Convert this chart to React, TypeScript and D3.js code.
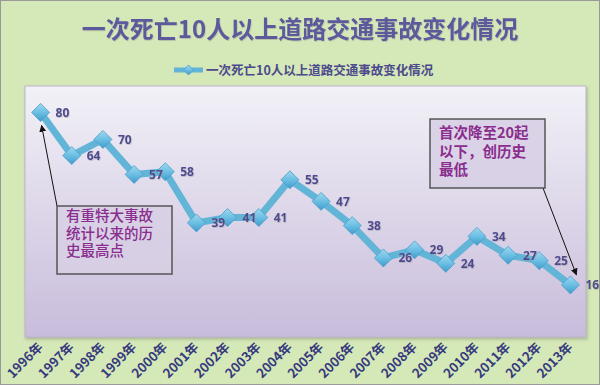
import React from 'react';
import * as d3 from 'd3';

const years = ['1996年', '1997年', '1998年', '1999年', '2000年', '2001年', '2002年', '2003年', '2004年',
  '2005年', '2006年', '2007年', '2008年', '2009年', '2010年', '2011年', '2012年', '2013年'];
const accidents = [80, 64, 70, 57, 58, 39, 41, 41, 55, 47, 38, 26, 29, 24, 34, 27, 25, 16];
const title = '一次死亡10人以上道路交通事故变化情况';
const noteHigh = ['有重特大事故', '统计以来的历', '史最高点'];
const noteLow = ['首次降至20起', '以下，创历史', '最低'];

const W = 600;
const H = 385;
const plot = { left: 25, top: 86, right: 586, bottom: 337 };
const cjk = '"Noto Sans CJK SC", "Noto Sans", sans-serif';

function Diamond({ x, y, r = 9 }: { x: number; y: number; r?: number }) {
  return (
    <path
      d={`M${x},${y - r}L${x + r},${y}L${x},${y + r}L${x - r},${y}Z`}
      fill="url(#diamondFill)"
      stroke="#4a9dc6"
      strokeWidth={0.8}
    />
  );
}

export default function App() {
  const x = d3.scalePoint<string>().domain(years).range([plot.left, plot.right]).padding(0.5);
  const y = d3.scaleLinear().domain([0, 90]).range([328, 85.5]);

  const line = d3
    .line<number>()
    .x((d, i) => x(years[i]) as number)
    .y(d => y(d));

  const px = (i: number) => x(years[i]) as number;
  const last = years.length - 1;

  return (
    <svg width={W} height={H} style={{ position: 'absolute', left: 0, top: 0, display: 'block' }}>
      <defs>
        <linearGradient id="plotFill" x1="0" y1="0" x2="0" y2="1">
          <stop offset="0" stopColor="#f2f1f7" />
          <stop offset="1" stopColor="#c8bcdb" />
        </linearGradient>
        <linearGradient id="diamondFill" x1="0" y1="0" x2="0" y2="1">
          <stop offset="0" stopColor="#9fd8f0" />
          <stop offset="0.5" stopColor="#6cbfe3" />
          <stop offset="1" stopColor="#3f9bcb" />
        </linearGradient>
        <filter id="shadow" x="-5%" y="-5%" width="110%" height="115%">
          <feDropShadow dx="1" dy="2" stdDeviation="1.5" floodColor="#7f8a70" floodOpacity="0.5" />
        </filter>
        <filter id="txtShadow" x="-10%" y="-10%" width="120%" height="130%">
          <feDropShadow dx="0.6" dy="0.8" stdDeviation="0.5" floodColor="#9a9a9a" floodOpacity="0.6" />
        </filter>
        <marker id="arrow" viewBox="0 0 10 10" refX="9" refY="5" markerWidth="7" markerHeight="7" orient="auto">
          <path d="M0,0L10,5L0,10Z" fill="#111" />
        </marker>
      </defs>

      <rect x={0.5} y={0.5} width={W - 1} height={H - 1} fill="#d5e8b8" stroke="#9a9a9a" />

      <text x={300} y={38} textAnchor="middle" fontFamily={cjk} fontSize={24} fontWeight={700}
        fill="#5b5a9c" filter="url(#txtShadow)">{title}</text>

      <g>
        <line x1={174} x2={203} y1={70} y2={70} stroke="#63b5d8" strokeWidth={5} />
        <Diamond x={188.5} y={70} r={5} />
        <text x={206} y={74.5} fontFamily={cjk} fontSize={12.5} fontWeight={700} fill="#4c4a8c">{title}</text>
      </g>

      <rect x={plot.left} y={plot.top} width={plot.right - plot.left} height={plot.bottom - plot.top}
        fill="url(#plotFill)" stroke="#bdb4cc" strokeWidth={1} filter="url(#shadow)" />

      <path d={line(accidents) as string} fill="none" stroke="#63b5d8" strokeWidth={7}
        strokeLinejoin="round" />

      {accidents.map((v, i) => (
        <Diamond key={years[i]} x={px(i)} y={y(v)} />
      ))}

      {accidents.map((v, i) => (
        <text key={'l' + years[i]} x={px(i) + 15} y={y(v) + 4.5} fontFamily="'Open Sans', sans-serif"
          fontSize={12} fontWeight={700} fill="#4f4a92" filter="url(#txtShadow)">{v}</text>
      ))}

      {years.map((t, i) => (
        <text key={'x' + t} transform={`translate(${px(i) + 3},${348}) rotate(-45)`} textAnchor="end"
          fontFamily={cjk} fontSize={13} fontWeight={700} fill="#363a7e">{t}</text>
      ))}

      <line x1={57} y1={206} x2={px(0) + 1} y2={y(accidents[0]) + 13} stroke="#111" strokeWidth={1}
        markerEnd="url(#arrow)" />
      <rect x={57} y={206} width={115} height={68} fill="#d7cfe4" fillOpacity={0.85} stroke="#555"
        strokeWidth={1.5} />
      {noteHigh.map((t, i) => (
        <text key={t} x={66} y={221 + i * 17.5} fontFamily={cjk} fontSize={14.5} fontWeight={500}
          fill="#8a2d8e">{t}</text>
      ))}

      <line x1={543} y1={188} x2={px(last) + 6} y2={y(accidents[last]) - 10} stroke="#111"
        strokeWidth={1} markerEnd="url(#arrow)" />
      <rect x={430} y={119} width={115} height={69} fill="#d7cfe4" fillOpacity={0.85} stroke="#555"
        strokeWidth={1.5} />
      {noteLow.map((t, i) => (
        <text key={t} x={439} y={138 + i * 18.5} fontFamily={cjk} fontSize={14.5} fontWeight={700}
          fill="#8a2d8e">{t}</text>
      ))}
    </svg>
  );
}
